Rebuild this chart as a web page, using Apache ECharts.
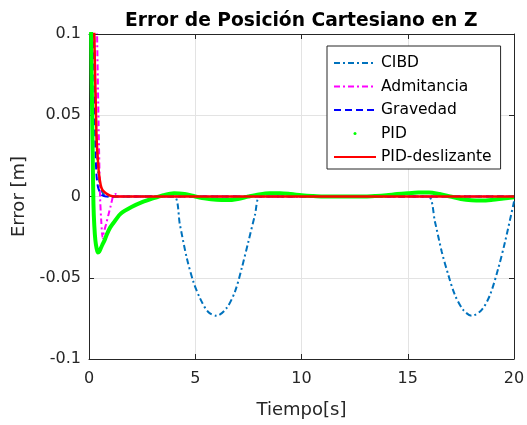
<!DOCTYPE html>
<html>
<head>
<meta charset="utf-8">
<script src="https://cdn.jsdelivr.net/npm/echarts@6/dist/echarts.min.js"></script>
<style>
html,body{margin:0;padding:0;background:#fff;}
#c{width:527px;height:425px;}
</style>
</head>
<body>
<div id="c"></div>
<script>
// ---- data ----
const seriesNames = ['CIBD', 'Admitancia', 'Gravedad', 'PID', 'PID-deslizante'];
const xTicks = [0, 5, 10, 15, 20];
const yTickLabels = ['-0.1', '-0.05', '0', '0.05', '0.1'];

const tCIBD = [0, 0.25, 0.33, 0.4, 0.5, 0.65, 0.9, 2, 3, 4.0, 4.28, 4.6, 4.91, 5.22, 5.6, 6.01, 6.48, 6.87, 7.19, 7.5, 7.81, 8.05, 9, 10, 11, 12, 13, 14, 15, 15.97, 16.28, 16.6, 16.91, 17.22, 17.61, 18.01, 18.48, 18.87, 19.26, 19.58, 19.97, 20];
const eCIBD = [0.4, 0.1, 0.05, 0.02, 0.008, 0.002, 0, 0, 0, 0, -0.0175, -0.0378, -0.0524, -0.0625, -0.0709, -0.0734, -0.0686, -0.0585, -0.044, -0.0278, -0.0114, 0, 0, 0, 0, 0, 0, 0, 0, 0, -0.0155, -0.034, -0.0483, -0.0606, -0.0698, -0.0734, -0.0698, -0.0606, -0.0442, -0.0278, -0.005, -0.003];

const tAdm = [0, 0.38, 0.45, 0.52, 0.58, 0.64, 0.7, 0.8, 0.91, 1.02, 1.13, 1.25, 1.4, 5, 10, 15, 20];
const eAdm = [0.4, 0.1, 0.045, 0, -0.016, -0.0255, -0.022, -0.0172, -0.0115, -0.0058, 0, 0.0015, 0, 0, 0, 0, 0];

const tGrav = [0, 0.22, 0.28, 0.31, 0.36, 0.42, 0.5, 0.6, 0.8, 2, 5, 10, 15, 20];
const eGrav = [0.4, 0.1, 0.045, 0.025, 0.012, 0.006, 0.003, 0.001, 0, 0, 0, 0, 0, 0];

const tPID = [0, 0.1, 0.15, 0.18, 0.21, 0.25, 0.3, 0.36, 0.42, 0.48, 0.55, 0.62, 0.73, 0.85, 1.0, 1.25, 1.5, 2.0, 2.5, 3.0, 3.5, 4.0, 4.5, 5.0, 5.5, 6.0, 6.5, 7.0, 7.5, 8.0, 8.5, 9.0, 9.5, 10.0, 10.5, 11.0, 12, 13, 13.5, 14.0, 14.5, 15.0, 15.5, 16.0, 16.5, 17.0, 17.5, 18.0, 18.5, 19.0, 19.5, 20.0];
const ePID = [0.4, 0.1, 0.05, 0.02, -0.005, -0.018, -0.027, -0.032, -0.0345, -0.034, -0.032, -0.030, -0.027, -0.023, -0.019, -0.0145, -0.0105, -0.0065, -0.0035, -0.0012, 0.0008, 0.002, 0.0015, 0, -0.0013, -0.002, -0.0022, -0.0015, 0, 0.0013, 0.002, 0.002, 0.0015, 0.0008, 0.0003, 0, 0, 0, 0.0003, 0.0008, 0.0015, 0.002, 0.0024, 0.0025, 0.0015, 0, -0.0015, -0.0023, -0.0025, -0.002, -0.0012, -0.0005];

const tDesl = [0, 0.25, 0.33, 0.36, 0.42, 0.47, 0.55, 0.63, 0.75, 0.86, 1.0, 1.2, 5, 10, 15, 20];
const eDesl = [0.4, 0.1, 0.05, 0.035, 0.022, 0.014, 0.007, 0.004, 0.0025, 0.0015, 0.0005, 0, 0, 0, 0, 0];

const zip = (t, v) => t.map((x, i) => [x, v[i]]);

const FONT = 'DejaVu Sans';
const chart = echarts.init(document.getElementById('c'), null, {renderer: 'canvas'});

const axisCommon = {
  type: 'value', min: 0, max: 20, interval: 5
};

chart.setOption({
  animation: false,
  backgroundColor: '#ffffff',
  title: {
    text: 'Error de Posición Cartesiano en Z',
    left: 125, top: 12, padding: 0,
    textStyle: {fontFamily: FONT, fontSize: 18.7, fontWeight: 'bold', color: '#000'}
  },
  grid: {left: 89, right: 13, top: 34, bottom: 66, containLabel: false, outerBoundsMode: 'none'},
  legend: {
    orient: 'vertical', left: 327, top: 46,
    padding: [9, 9, 4, 6], itemGap: 7.5, itemWidth: 42, itemHeight: 14,
    backgroundColor: '#fff', borderColor: '#262626', borderWidth: 1, borderRadius: 0,
    textStyle: {fontFamily: FONT, fontSize: 15.5, color: '#000'},
    data: [
      {name: seriesNames[0], itemStyle: {opacity: 0}},
      {name: seriesNames[1], itemStyle: {opacity: 0}},
      {name: seriesNames[2], itemStyle: {opacity: 0}},
      {name: seriesNames[3], icon: 'path://M0,0 M42,14 M19.5,7 A1.5,1.5 0 1 0 22.5,7 A1.5,1.5 0 1 0 19.5,7 Z'},
      {name: seriesNames[4], itemStyle: {opacity: 0}}
    ]
  },
  xAxis: [
    Object.assign({}, axisCommon, {
      position: 'bottom',
      name: 'Tiempo[s]', nameLocation: 'middle', nameGap: 42,
      nameTextStyle: {fontFamily: FONT, fontSize: 18, color: '#262626'},
      axisLine: {show: true, onZero: false, lineStyle: {color: '#262626', width: 1}},
      axisTick: {show: true, inside: true, length: 5, lineStyle: {color: '#262626'}},
      axisLabel: {fontFamily: FONT, fontSize: 16, color: '#262626', margin: 12,
        formatter: v => String(xTicks[xTicks.indexOf(v)] ?? v)},
      splitLine: {show: true, lineStyle: {color: '#e3e3e3', width: 1}}
    }),
    Object.assign({}, axisCommon, {
      position: 'top',
      axisLine: {show: true, onZero: false, lineStyle: {color: '#262626', width: 1}},
      axisTick: {show: true, inside: true, length: 5, lineStyle: {color: '#262626'}},
      axisLabel: {show: false},
      splitLine: {show: false}
    })
  ],
  yAxis: [
    {
      type: 'value', min: -0.1, max: 0.1, interval: 0.05, position: 'left',
      name: 'Error [m]', nameLocation: 'middle', nameGap: 48, nameRotate: 90,
      nameTextStyle: {fontFamily: FONT, fontSize: 18, color: '#262626'},
      axisLine: {show: true, onZero: false, lineStyle: {color: '#262626', width: 1}},
      axisTick: {show: true, inside: true, length: 5, lineStyle: {color: '#262626'}},
      axisLabel: {fontFamily: FONT, fontSize: 16, color: '#262626', margin: 8,
        formatter: v => yTickLabels[Math.round((v + 0.1) / 0.05)]},
      splitLine: {show: true, lineStyle: {color: '#e3e3e3', width: 1}}
    },
    {
      type: 'value', min: -0.1, max: 0.1, interval: 0.05, position: 'right',
      axisLine: {show: true, onZero: false, lineStyle: {color: '#262626', width: 1}},
      axisTick: {show: true, inside: true, length: 5, lineStyle: {color: '#262626'}},
      axisLabel: {show: false},
      splitLine: {show: false}
    }
  ],
  series: [
    {name: seriesNames[0], type: 'line', data: zip(tCIBD, eCIBD), symbol: 'none', smooth: 0.3,
      color: '#0072BD', lineStyle: {color: '#0072BD', width: 2, type: [6, 3, 2, 3]}, z: 2},
    {name: seriesNames[1], type: 'line', data: zip(tAdm, eAdm), symbol: 'none', smooth: 0.2,
      color: '#FF00FF', lineStyle: {color: '#FF00FF', width: 2, type: [6, 3, 2, 3]}, z: 3},
    {name: seriesNames[2], type: 'line', data: zip(tGrav, eGrav), symbol: 'none', smooth: 0.2,
      color: '#0000FF', lineStyle: {color: '#0000FF', width: 2, type: [7, 4]}, z: 4},
    {name: seriesNames[3], type: 'line', data: zip(tPID, ePID), symbol: 'none', smooth: 0.3,
      color: '#00FF00', lineStyle: {color: '#00FF00', width: 4}, z: 5},
    {name: seriesNames[4], type: 'line', data: zip(tDesl, eDesl), symbol: 'none', smooth: 0.2,
      color: '#FF0000', lineStyle: {color: '#FF0000', width: 2.5}, z: 6}
  ]
});
</script>
</body>
</html>
